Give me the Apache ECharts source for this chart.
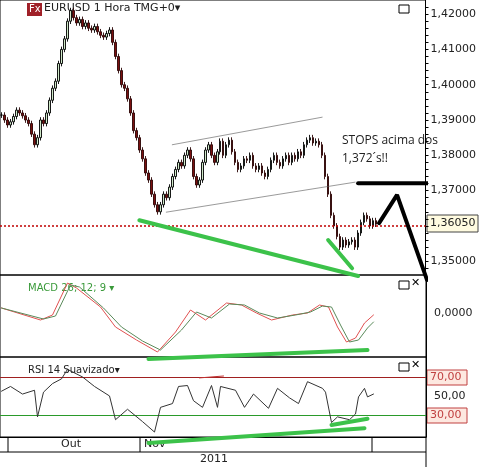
<!DOCTYPE html><html><head><meta charset="utf-8">
<script src="https://cdn.jsdelivr.net/npm/echarts@6/dist/echarts.min.js"></script>
<style>html,body{margin:0;padding:0;background:#fff}#c{width:479px;height:467px}</style></head><body><div id="c"></div>
<script>
const closes=[1.3914,1.3900,1.3886,1.3895,1.3910,1.3928,1.3920,1.3912,1.3900,1.3890,1.3860,1.3830,1.3850,1.3900,1.3890,1.3920,1.3956,1.3990,1.4010,1.4060,1.4100,1.4130,1.4180,1.4210,1.4190,1.4175,1.4185,1.4165,1.4175,1.4160,1.4155,1.4165,1.4150,1.4140,1.4135,1.4145,1.4155,1.4120,1.4080,1.4040,1.4000,1.3990,1.3960,1.3920,1.3870,1.3850,1.3815,1.3790,1.3750,1.3730,1.3690,1.3660,1.3640,1.3660,1.3690,1.3680,1.3710,1.3740,1.3760,1.3780,1.3770,1.3800,1.3815,1.3790,1.3740,1.3716,1.3730,1.3780,1.3815,1.3830,1.3800,1.3780,1.3810,1.3840,1.3800,1.3830,1.3843,1.3810,1.3780,1.3760,1.3770,1.3790,1.3786,1.3800,1.3770,1.3760,1.3770,1.3750,1.3740,1.3760,1.3786,1.3800,1.3780,1.3770,1.3790,1.3800,1.3780,1.3800,1.3790,1.3810,1.3800,1.3830,1.3843,1.3850,1.3835,1.3840,1.3830,1.3800,1.3740,1.3690,1.3630,1.3600,1.3570,1.3540,1.3560,1.3546,1.3555,1.3560,1.3540,1.3580,1.3610,1.3630,1.3620,1.3600,1.3615,1.3605];
const macdPts=[[0,0.0005],[13,-0.0007],[17,-0.0002],[22,0.0030],[25,0.0025],[33,0.0006],[38,-0.0014],[45,-0.0027],[52,-0.0039],[58,-0.0019],[63,0.0003],[68,-0.0007],[75,0.0010],[80,0.0008],[85,0.0000],[90,-0.0007],[97,-0.0002],[102,0.0000],[106,0.0008],[109,0.0006],[112,-0.0014],[115,-0.0029],[118,-0.0025],[121,-0.0010],[124,-0.0002]];
const signalPts=[[0,0.0005],[14,-0.0006],[18,-0.0003],[23,0.0028],[26,0.0026],[34,0.0005],[40,-0.0014],[47,-0.0028],[53,-0.0037],[60,-0.0017],[65,0.0001],[70,-0.0005],[76,0.0009],[81,0.0008],[86,0.0000],[92,-0.0005],[98,-0.0002],[103,0.0001],[107,0.0007],[110,0.0006],[113,-0.0012],[116,-0.0029],[119,-0.0027],[122,-0.0015],[124,-0.0009]];
const rsiPts=[[0,55],[3,60],[7,52],[11,56],[12,28],[14,54],[17,63],[20,68],[22,78],[27,70],[31,60],[36,50],[38,25],[42,36],[47,23],[51,12],[53,38],[57,42],[59,60],[62,61],[64,45],[67,38],[70,61],[72,38],[73,60],[78,56],[81,38],[84,52],[89,37],[92,58],[96,48],[99,42],[102,65],[107,58],[108,54],[110,22],[112,28],[116,25],[118,31],[119,49],[121,58],[122,49],[124,52]];
const priceTicks=[1.35,1.37,1.38,1.39,1.40,1.41,1.42];
const lastPrice=1.3605;
const NCAT=142;
const cats=Array.from({length:NCAT},(_,i)=>i);
const candles=closes.map((c,i)=>{const o=i?closes[i-1]:c;return [o,c,Math.min(o,c)-0.0008,Math.max(o,c)+0.0008];});
const seg=(pts,color,w,xi,yi,extra)=>Object.assign({type:'line',data:pts,xAxisIndex:xi,yAxisIndex:yi,symbol:'none',clip:false,lineStyle:{color,width:w,cap:'round'},z:10,silent:true,animation:false},extra||{});
const fmt=(d)=>v=>v.toFixed(d).replace('.',',');
const minorT=[];for(let v=1.346;v<=1.424;v+=0.002)minorT.push(+v.toFixed(3));
const ch=echarts.init(document.getElementById('c'));
const xa=(gi)=>({type:'category',data:cats,gridIndex:gi,boundaryGap:true,axisLine:{show:gi==2,lineStyle:{color:'#000'}},axisTick:{show:false},axisLabel:{show:false},splitLine:{show:false}});
ch.setOption({animation:false,
grid:[{left:0,right:53,top:0,height:275,show:true,borderColor:'#000',borderWidth:1},{left:0,right:53,top:275,height:82,show:true,borderColor:'#000'},{left:0,right:53,top:357,height:80,show:true,borderColor:'#000'}],
xAxis:[xa(0),xa(1),xa(2)],
yAxis:[
{type:'value',gridIndex:0,position:'right',min:1.3461,max:1.424,axisLine:{show:true,lineStyle:{color:'#000'}},axisTick:{show:true,customValues:minorT,length:3,inside:false},axisLabel:{customValues:priceTicks,formatter:fmt(5),color:'#222',fontSize:11,fontFamily:'DejaVu Sans',margin:5},splitLine:{show:false}},
{type:'value',gridIndex:1,position:'right',min:-0.0044,max:0.0038,axisLine:{show:true,lineStyle:{color:'#000'}},axisTick:{customValues:[-0.004,-0.003,-0.002,-0.001,0,0.001,0.002,0.003],length:3},axisLabel:{customValues:[0],formatter:fmt(4),color:'#222',fontSize:11,fontFamily:'DejaVu Sans'},splitLine:{show:false}},
{type:'value',gridIndex:2,position:'right',min:6.8,max:91,axisLine:{show:true,lineStyle:{color:'#000'}},axisTick:{customValues:[10,20,30,40,50,60,70,80,90],length:3},axisLabel:{customValues:[50],formatter:fmt(2),color:'#222',fontSize:11,fontFamily:'DejaVu Sans'},splitLine:{show:false}}],
series:[
{type:'candlestick',data:candles,xAxisIndex:0,yAxisIndex:0,barWidth:2,itemStyle:{color:'#cfe8c8',color0:'#7a1010',borderColor:'#000',borderColor0:'#2a0505',borderWidth:0.9},
 markLine:{symbol:'none',silent:true,label:{show:false},lineStyle:{color:'#c00000',type:[2,2],width:1.5},data:[{yAxis:lastPrice}]}},
seg(macdPts,'#e05050',1,1,1),
seg(signalPts,'#5a8a5a',1,1,1),
seg(rsiPts,'#333',1,2,2,{markLine:{symbol:'none',silent:true,label:{show:false},data:[{yAxis:70,lineStyle:{color:'#a02020',type:'solid',width:1}},{yAxis:30,lineStyle:{color:'#2a9a2a',type:'solid',width:1}}]}}),
seg([[57,1.383],[107,1.3908]],'#555',0.6,0,0),
seg([[55,1.3639],[118,1.3724]],'#555',0.6,0,0),
seg([[45.7,1.3616],[119,1.3458]],'#3cc24a',4,0,0),
seg([[109,1.356],[117,1.348]],'#3cc24a',4,0,0),
seg([[119,1.3721],[150.5,1.3721]],'#000',4,0,0),
seg([[125.7,1.3608],[131.7,1.3688],[142,1.3447]],'#000',4,0,0),
seg([[49,-0.0046],[122,-0.0037]],'#3cc24a',4,1,1),
seg([[49,0.5],[121,16]],'#3cc24a',4,2,2),
seg([[110,19.5],[122,26]],'#3cc24a',4,2,2),
seg([[66,69],[74,71]],'#c03030',1,2,2)
],
graphic:[
{type:'rect',shape:{x:27,y:3,width:15,height:13},style:{fill:'#a02028'}},
{type:'text',x:29,y:4,style:{text:'Fx',fill:'#fff',font:'10px DejaVu Sans'}},
{type:'text',x:44,y:3,style:{text:'EURUSD 1 Hora TMG+0▾',fill:'#222',font:'11px DejaVu Sans'}},
{type:'text',x:28,y:283,style:{text:'MACD 26; 12; 9 ▾',fill:'#3a9a3a',font:'10px DejaVu Sans'}},
{type:'text',x:28,y:365,style:{text:'RSI 14 Suavizado▾',fill:'#222',font:'10px DejaVu Sans'}},
{type:'text',x:342,y:132,style:{text:'STOPS acima dos\n1,372´s!!',fill:'#222',font:'12px "Open Sans"',lineHeight:18}},
{type:'rect',shape:{x:399,y:5,width:10,height:8},style:{fill:'none',stroke:'#000',lineWidth:1}},
{type:'rect',shape:{x:399,y:281,width:10,height:8},style:{fill:'none',stroke:'#000',lineWidth:1}},
{type:'text',x:411,y:278,style:{text:'✕',fill:'#000',font:'bold 11px DejaVu Sans'}},
{type:'rect',shape:{x:399,y:363,width:10,height:8},style:{fill:'none',stroke:'#000',lineWidth:1}},
{type:'text',x:411,y:360,style:{text:'✕',fill:'#000',font:'bold 11px DejaVu Sans'}},
{type:'rect',shape:{x:427,y:215,width:51,height:17},style:{fill:'#fffbe0',stroke:'#444',lineWidth:1}},
{type:'text',x:430,y:218,style:{text:fmt(5)(lastPrice),fill:'#222',font:'11px DejaVu Sans'}},
{type:'rect',shape:{x:427,y:370,width:40,height:15},style:{fill:'#fde8e0',stroke:'#c04040',lineWidth:1}},
{type:'text',x:430,y:372,style:{text:'70,00',fill:'#c04040',font:'11px DejaVu Sans'}},
{type:'rect',shape:{x:427,y:408,width:40,height:15},style:{fill:'#fde8e0',stroke:'#c04040',lineWidth:1}},
{type:'text',x:430,y:410,style:{text:'30,00',fill:'#c04040',font:'11px DejaVu Sans'}},
{type:'line',shape:{x1:0,y1:452,x2:426,y2:452},style:{stroke:'#000',lineWidth:1}},
{type:'line',shape:{x1:8,y1:437,x2:8,y2:452},style:{stroke:'#000'}},
{type:'line',shape:{x1:140,y1:437,x2:140,y2:452},style:{stroke:'#000'}},
{type:'line',shape:{x1:372,y1:437,x2:372,y2:452},style:{stroke:'#000'}},
{type:'line',shape:{x1:426,y1:437,x2:426,y2:467},style:{stroke:'#000'}},
{type:'text',x:61,y:439,style:{text:'Out',fill:'#222',font:'11px DejaVu Sans'}},
{type:'text',x:144,y:439,style:{text:'Nov',fill:'#222',font:'11px DejaVu Sans'}},
{type:'text',x:200,y:454,style:{text:'2011',fill:'#222',font:'11px DejaVu Sans'}}
]});
</script></body></html>
